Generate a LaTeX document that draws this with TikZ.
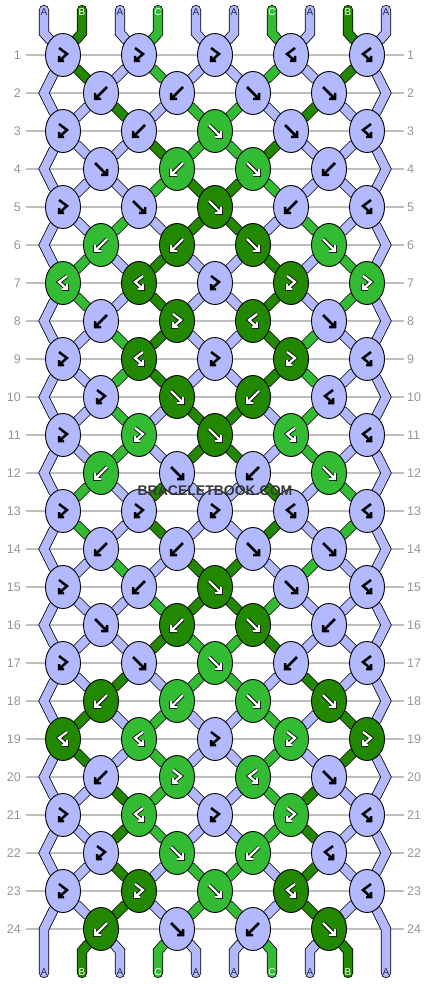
\documentclass[tikz,border=0pt]{standalone}
\usepackage{fontspec}
\setmainfont{Liberation Sans}
\usetikzlibrary{shapes.geometric,backgrounds}

\definecolor{strA}{RGB}{178,185,255}
\definecolor{strB}{RGB}{34,136,0}
\definecolor{strC}{RGB}{51,187,51}
\definecolor{labA}{RGB}{40,40,70}
\definecolor{labB}{RGB}{255,255,255}
\definecolor{labC}{RGB}{255,255,255}
\definecolor{guidegray}{RGB}{190,190,190}
\definecolor{numgray}{RGB}{150,150,150}
\definecolor{markgray}{RGB}{55,55,55}

\tikzset{
  knot/.style={ellipse, draw=black, line width=0.9pt, minimum width=35pt,
    minimum height=43pt, inner sep=0pt},
  thread/.style={draw=black, line width=0.8pt, double=#1, double distance=8.6pt,
    line cap=round, line join=miter},
  guide/.style={draw=guidegray, line width=1.2pt},
  numlab/.style={text=numgray, font=\fontsize{12.5}{14}\selectfont, inner sep=0pt},
  endlab/.style={font=\fontsize{10}{12}\selectfont, inner sep=0pt},
  symdark/.style={draw=black, line width=2.5pt, line join=miter},
  symedge/.style={draw=black, line width=3.9pt, line cap=square, line join=miter},
  symlight/.style={draw=white, line width=2.3pt, line join=miter},
}

% knot symbols, y grows downwards
\newcommand\symf{(-6,-6) -- (6,6) (6,0) -- (6,6) -- (0,6)}
\newcommand\symb{(6,-6) -- (-6,6) (-6,0) -- (-6,6) -- (0,6)}
\newcommand\symfb{(-4,-7) -- (4,-1) -- (-4,6) (-4,1) -- (-4,6) -- (1,6)}
\newcommand\symbf{(4,-7) -- (-4,-1) -- (4,6) (4,1) -- (4,6) -- (-1,6)}

\newcommand\setrow[2]{\expandafter\def\csname strow#1\endcsname{#2}}
\newcommand\setknots[2]{\expandafter\def\csname knrow#1\endcsname{#2}}

% colour on each position after row n
\setrow{0}{A,B,A,C,A,A,C,A,B,A}
\setrow{1}{A,B,A,C,A,A,C,A,B,A}
\setrow{2}{A,A,B,A,C,C,A,B,A,A}
\setrow{3}{A,A,A,B,C,C,B,A,A,A}
\setrow{4}{A,A,A,C,B,B,C,A,A,A}
\setrow{5}{A,A,C,A,B,B,A,C,A,A}
\setrow{6}{A,C,A,B,A,A,B,A,C,A}
\setrow{7}{A,C,A,B,A,A,B,A,C,A}
\setrow{8}{A,A,C,B,A,A,B,C,A,A}
\setrow{9}{A,A,C,B,A,A,B,C,A,A}
\setrow{10}{A,A,C,A,B,B,A,C,A,A}
\setrow{11}{A,A,C,A,B,B,A,C,A,A}
\setrow{12}{A,C,A,B,A,A,B,A,C,A}
\setrow{13}{A,C,A,B,A,A,B,A,C,A}
\setrow{14}{A,A,C,A,B,B,A,C,A,A}
\setrow{15}{A,A,A,C,B,B,C,A,A,A}
\setrow{16}{A,A,A,B,C,C,B,A,A,A}
\setrow{17}{A,A,B,A,C,C,A,B,A,A}
\setrow{18}{A,B,A,C,A,A,C,A,B,A}
\setrow{19}{A,B,A,C,A,A,C,A,B,A}
\setrow{20}{A,A,B,C,A,A,C,B,A,A}
\setrow{21}{A,A,B,C,A,A,C,B,A,A}
\setrow{22}{A,A,B,A,C,C,A,B,A,A}
\setrow{23}{A,A,B,A,C,C,A,B,A,A}
\setrow{24}{A,B,A,C,A,A,C,A,B,A}

% knots of each row: type/colour
\setknots{1}{fb/A,fb/A,fb/A,bf/A,bf/A}
\setknots{2}{b/A,b/A,f/A,f/A}
\setknots{3}{fb/A,b/A,f/C,f/A,bf/A}
\setknots{4}{f/A,b/C,f/C,b/A}
\setknots{5}{fb/A,f/A,f/B,b/A,bf/A}
\setknots{6}{b/C,b/B,f/B,f/C}
\setknots{7}{bf/C,bf/B,fb/A,fb/B,fb/C}
\setknots{8}{b/A,fb/B,bf/B,f/A}
\setknots{9}{fb/A,bf/B,fb/A,fb/B,bf/A}
\setknots{10}{fb/A,f/B,b/B,bf/A}
\setknots{11}{fb/A,fb/C,f/B,bf/C,bf/A}
\setknots{12}{b/C,f/A,b/A,f/C}
\setknots{13}{fb/A,fb/A,fb/A,bf/A,bf/A}
\setknots{14}{b/A,b/A,f/A,f/A}
\setknots{15}{fb/A,b/A,f/B,f/A,bf/A}
\setknots{16}{f/A,b/B,f/B,b/A}
\setknots{17}{fb/A,f/A,f/C,b/A,bf/A}
\setknots{18}{b/B,b/C,f/C,f/B}
\setknots{19}{bf/B,bf/C,fb/A,fb/C,fb/B}
\setknots{20}{b/A,fb/C,bf/C,f/A}
\setknots{21}{fb/A,bf/C,fb/A,fb/C,bf/A}
\setknots{22}{fb/A,f/C,b/C,bf/A}
\setknots{23}{fb/A,fb/B,f/C,bf/B,bf/A}
\setknots{24}{b/B,f/A,b/A,f/B}

% point that holds position #2 in row #1
\newcommand\posname[2]{%
  \ifodd#1\relax
    \pgfmathtruncatemacro\kj{#2/2}\edef\kn{k#1-\kj}%
  \else
    \ifnum#2=0 \edef\kn{sl#1}%
    \else\ifnum#2=9 \edef\kn{sr#1}%
    \else\pgfmathtruncatemacro\kj{(#2-1)/2}\edef\kn{k#1-\kj}%
    \fi\fi
  \fi}

\begin{document}
\begin{tikzpicture}[x=1pt, y=-1pt]
    \useasboundingbox (0,0) rectangle (430,984);

    % row numbers
    \foreach \rw in {1,...,24} {
        \node[numlab, anchor=east] (nl\rw) at (21,{55+38*(\rw-1)}) {\rw};
        \node[numlab, anchor=west] (nr\rw) at (407,{55+38*(\rw-1)}) {\rw};
    }

    % string ends and side turns
    \foreach \ps in {0,...,9} {
        \coordinate (tc\ps) at ({44+38*\ps},10);
        \coordinate (tb\ps) at ({44+38*\ps},33);
        \coordinate (bb\ps) at ({44+38*\ps},951);
        \coordinate (bc\ps) at ({44+38*\ps},973);
    }
    \foreach \rw in {2,4,...,24} {
        \coordinate (sl\rw) at (44,{55+38*(\rw-1)});
        \coordinate (sr\rw) at (386,{55+38*(\rw-1)});
    }

    % knots
    \foreach \rw in {1,...,24} {
        \edef\thisknots{\csname knrow\rw\endcsname}
        \foreach \kt/\cl [count=\kj from 0] in \thisknots {
            \ifodd\rw\relax \pgfmathsetmacro\kx{63+76*\kj}\else \pgfmathsetmacro\kx{101+76*\kj}\fi
            \node[knot, fill=str\cl] (k\rw-\kj) at (\kx,{55+38*(\rw-1)}) {};
            \if A\cl
                \draw[symdark, shift={(k\rw-\kj.center)}] \csname sym\kt\endcsname;
            \else
                \draw[symedge, shift={(k\rw-\kj.center)}] \csname sym\kt\endcsname;
                \draw[symlight, shift={(k\rw-\kj.center)}] \csname sym\kt\endcsname;
            \fi
        }
    }

    \begin{scope}[on background layer]
        \foreach \rw in {1,...,24}
            \draw[guide] (26,{55+38*(\rw-1)}) -- (404,{55+38*(\rw-1)});

        % strings, row by row
        \foreach \rw in {0,...,24} {
            \edef\thisrow{\csname strow\rw\endcsname}
            \pgfmathtruncatemacro\rn{\rw+1}
            \pgfmathtruncatemacro\rnn{\rw+2}
            \foreach \cl [count=\ps from 0] in \thisrow {
                \ifnum\rw=0
                    \posname{1}{\ps}
                    \draw[thread=str\cl] (tc\ps) -- (tb\ps) -- (\kn);
                \else\ifnum\rw=24
                    \ifnum\ps>0 \ifnum\ps<9
                        \posname{24}{\ps}
                        \draw[thread=str\cl] (\kn) -- (bb\ps) -- (bc\ps);
                    \fi\fi
                \else
                    \ifodd\rw\relax
                        \ifnum\ps=0
                            \ifnum\rw=23 \def\nx{bc0}\else \edef\nx{k\rnn-0}\fi
                            \draw[thread=str\cl] (k\rw-0) -- (sl\rn) -- (\nx);
                        \else\ifnum\ps=9
                            \ifnum\rw=23 \def\nx{bc9}\else \edef\nx{k\rnn-4}\fi
                            \draw[thread=str\cl] (k\rw-4) -- (sr\rn) -- (\nx);
                        \else
                            \posname{\rw}{\ps}\let\ka\kn
                            \posname{\rn}{\ps}
                            \draw[thread=str\cl] (\ka) -- (\kn);
                        \fi\fi
                    \else
                        \ifnum\ps>0 \ifnum\ps<9
                            \posname{\rw}{\ps}\let\ka\kn
                            \posname{\rn}{\ps}
                            \draw[thread=str\cl] (\ka) -- (\kn);
                        \fi\fi
                    \fi
                \fi\fi
            }
        }
    \end{scope}

    % string letters
    \foreach \cl [count=\ps from 0] in {A,B,A,C,A,A,C,A,B,A} {
        \node[endlab, text=lab\cl] (tl\ps) at ({44+38*\ps},12) {\cl};
        \node[endlab, text=lab\cl] (bl\ps) at ({44+38*\ps},972) {\cl};
    }

    \node[text=markgray, font=\bfseries\fontsize{14}{16}\selectfont] (mark) at (215,491) {BRACELETBOOK.COM};
\end{tikzpicture}
\end{document}
